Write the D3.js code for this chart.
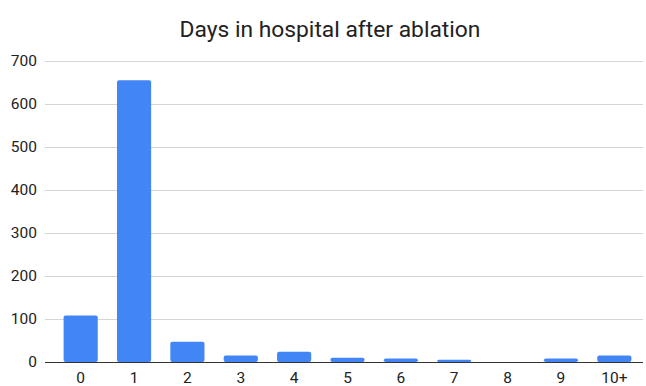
<!DOCTYPE html>
<html>
<head>
<meta charset="utf-8">
<script src="https://cdn.jsdelivr.net/npm/d3@7"></script>
<style>
body { margin: 0; background: #fff; }
text { font-family: Roboto, sans-serif; fill: #222; }
</style>
</head>
<body>
<svg id="chart" width="646" height="386"></svg>
<script>
// data
let days = ["0", "1", "2", "3", "4", "5", "6", "7", "8", "9", "10+"];
let patients = [108, 655, 47, 15, 24, 10, 8, 5, 0, 8, 15];
let yTicks = [0, 100, 200, 300, 400, 500, 600, 700];

let svg = d3.select("#chart");
let gridLeft = 45, gridRight = 643;

let x = d3.scaleBand()
	.domain(days)
	.range([54, 641])
	.paddingInner(0.36)
	.paddingOuter(0.18);

let y = d3.scaleLinear()
	.domain([0, 700])
	.range([362, 61]);

// title
svg.append("text")
	.attr("x", 330)
	.attr("y", 36.5)
	.attr("text-anchor", "middle")
	.style("font-size", "22.8px")
	.text("Days in hospital after ablation");

// grid lines
svg.append("g")
	.selectAll("line")
	.data(yTicks.filter(d => d > 0))
	.join("line")
	.attr("x1", gridLeft)
	.attr("x2", gridRight)
	.attr("y1", d => y(d) + 0.5)
	.attr("y2", d => y(d) + 0.5)
	.attr("stroke", "#d6d6d6");

// y axis labels
let yAxis = d3.axisLeft(y).tickValues(yTicks).tickSize(0).tickPadding(0);
svg.append("g")
	.attr("transform", "translate(37,0)")
	.call(yAxis)
	.call(g => g.select(".domain").remove())
	.call(g => g.selectAll("text").style("font-size", "15.5px").style("font-family", "Roboto, sans-serif").attr("fill", "#222"));

// bars
svg.append("g")
	.selectAll("rect")
	.data(patients)
	.join("rect")
	.attr("x", (d, i) => x(days[i]))
	.attr("width", x.bandwidth())
	.attr("y", d => y(d))
	.attr("height", d => y(0) - y(d))
	.attr("rx", 2)
	.attr("fill", "#4285f4");

// baseline
svg.append("line")
	.attr("x1", gridLeft)
	.attr("x2", gridRight)
	.attr("y1", y(0) + 0.5)
	.attr("y2", y(0) + 0.5)
	.attr("stroke", "#333")
	.attr("stroke-width", 1.2);

// x axis labels
let xAxis = d3.axisBottom(x).tickSize(0).tickPadding(0);
svg.append("g")
	.attr("transform", "translate(0,372)")
	.call(xAxis)
	.call(g => g.select(".domain").remove())
	.call(g => g.selectAll("text").style("font-size", "15.5px").style("font-family", "Roboto, sans-serif").attr("fill", "#222"));
</script>
</body>
</html>
